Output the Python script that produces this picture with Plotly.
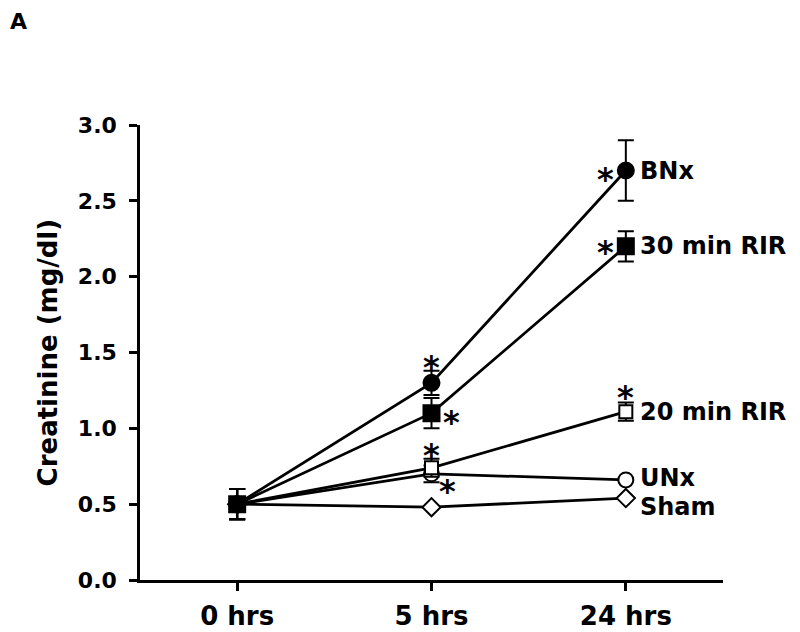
import plotly.graph_objects as go

# time points (categorical x axis)
times = ["0 hrs", "5 hrs", "24 hrs"]

# group means (mg/dl)
sham = [0.50, 0.48, 0.54]
unx = [0.50, 0.70, 0.66]
rir20 = [0.50, 0.74, 1.11]
rir30 = [0.50, 1.10, 2.20]
bnx = [0.50, 1.30, 2.70]

# error bars (symmetric)
sham_err = [0.10, 0.0, 0.0]
unx_err = [0.10, 0.055, 0.0]
rir20_err = [0.10, 0.06, 0.06]
rir30_err = [0.10, 0.10, 0.10]
bnx_err = [0.10, 0.08, 0.20]

FONT = "DejaVu Sans"

fig = go.Figure()

def add_group(y, err, name, symbol, filled, size):
    fig.add_trace(go.Scatter(
        x=times, y=y, name=name,
        mode="lines+markers",
        line=dict(color="black", width=2.8),
        marker=dict(symbol=symbol, size=size,
                    color="black" if filled else "white",
                    line=dict(color="black", width=2)),
        error_y=dict(type="data", array=err, visible=True,
                     color="black", thickness=2, width=8),
        showlegend=False,
    ))

add_group(sham, sham_err, "Sham", "diamond", False, 14)
add_group(unx, unx_err, "UNx", "circle", False, 15)
add_group(rir20, rir20_err, "20 min RIR", "square", False, 13)
add_group(bnx, bnx_err, "BNx", "circle", True, 16)
add_group(rir30, rir30_err, "30 min RIR", "square", True, 16)

# group labels at the right end of each line
label_y = [bnx[2], rir30[2], rir20[2], unx[2], sham[2]]
label_txt = ["BNx", "30 min RIR", "20 min RIR", "UNx", "Sham"]
label_dy = [0, 0, 0, 2, -9]
for yv, t, dy in zip(label_y, label_txt, label_dy):
    fig.add_annotation(x=2, y=yv, text="<b>%s</b>" % t, showarrow=False,
                       xanchor="left", yanchor="middle", xshift=12, yshift=dy,
                       font=dict(family=FONT, size=24, color="black"))

# significance asterisks: (x index, y value, x offset px)
stars = [(1, 1.45, 0), (1, 1.09, 20), (1, 0.87, 0), (1, 0.63, 16),
         (2, 2.69, -20), (2, 2.21, -20), (2, 1.25, 0)]
for xi, yv, dx in stars:
    fig.add_annotation(x=xi, y=yv, text="<b>*</b>", showarrow=False,
                       xanchor="center", yanchor="middle", xshift=dx, yshift=-7,
                       font=dict(family=FONT, size=32, color="black"))

# y axis title and panel letter
fig.add_annotation(xref="paper", yref="paper", x=-0.158, y=0.5,
                   text="<b>Creatinine (mg/dl)</b>", textangle=-90,
                   showarrow=False, xanchor="center", yanchor="middle",
                   font=dict(family=FONT, size=26, color="black"))
fig.add_annotation(xref="paper", yref="paper", x=-0.224, y=1.228,
                   text="<b>A</b>", showarrow=False,
                   xanchor="left", yanchor="middle", borderpad=0,
                   font=dict(family=FONT, size=22, color="black"))

fig.update_layout(
    width=792, height=624,
    margin=dict(l=132, r=77, t=117, b=52),
    paper_bgcolor="white", plot_bgcolor="white",
    font=dict(family=FONT, color="black"),
    xaxis=dict(
        type="category", range=[-0.5, 2.5], automargin=False,
        showline=True, linecolor="black", linewidth=2.5,
        ticks="outside", ticklen=8, tickwidth=2.5, tickcolor="black",
        showgrid=False, zeroline=False,
        tickfont=dict(family=FONT, size=26, color="black", weight="bold"),
        ticklabelstandoff=3,
    ),
    yaxis=dict(
        range=[0, 3.0], dtick=0.5, tickformat=".1f", automargin=False,
        showline=True, linecolor="black", linewidth=2.5,
        ticks="outside", ticklen=8, tickwidth=2.5, tickcolor="black",
        showgrid=False, zeroline=False,
        tickfont=dict(family=FONT, size=22, color="black", weight="bold"),
        ticklabelstandoff=8,
    ),
)

fig.write_html("out.html")
